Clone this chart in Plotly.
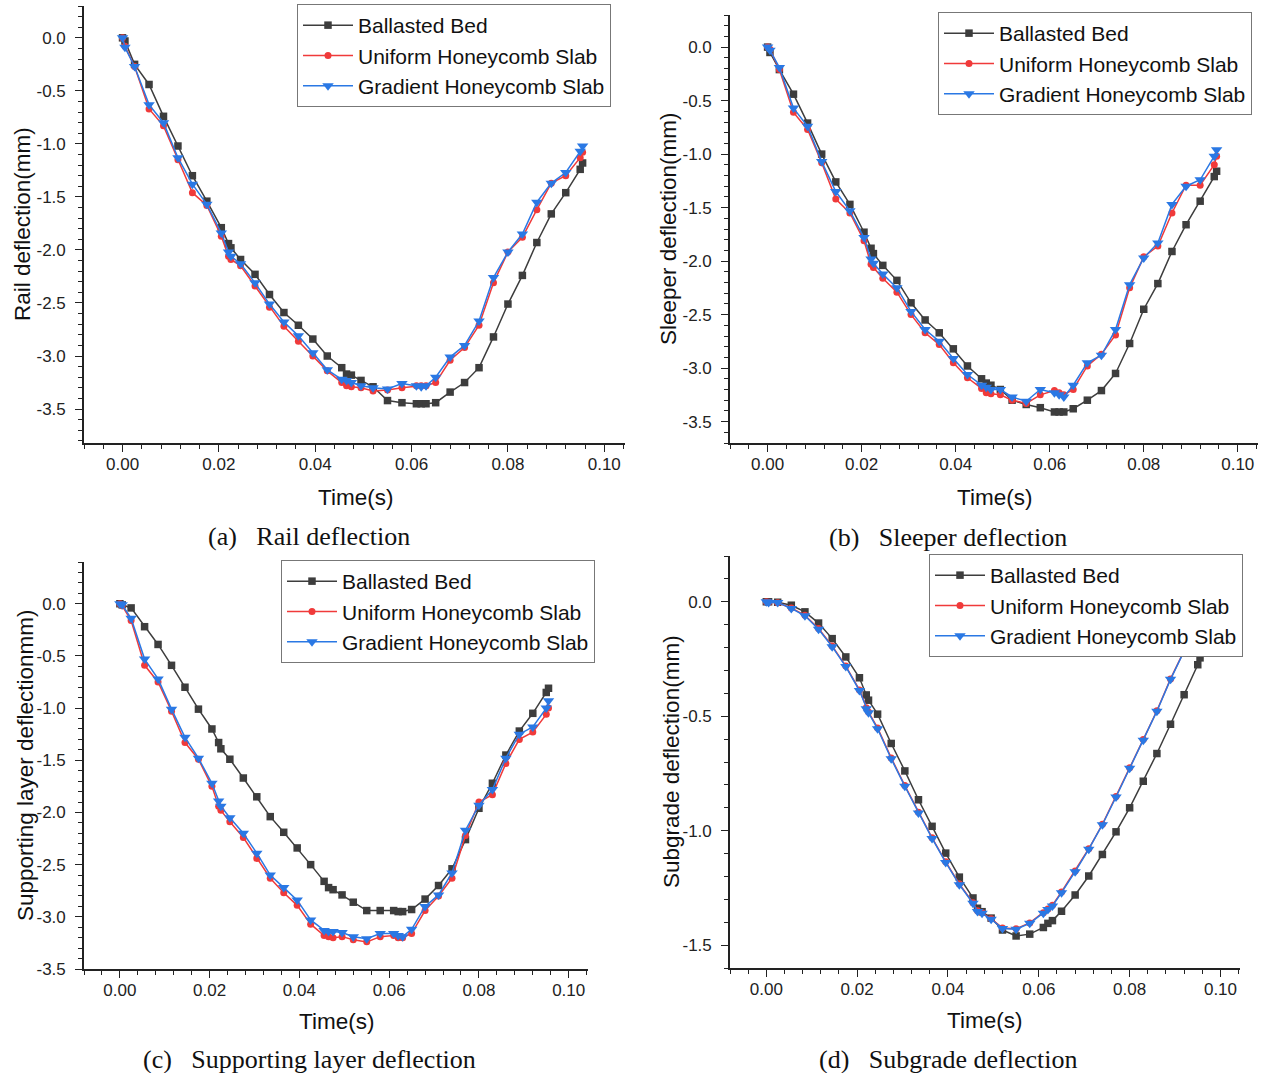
import plotly.graph_objects as go

# shared sample times (s)
time_s = [0.0, 0.0005, 0.0025, 0.0055, 0.0085, 0.0115, 0.0145, 0.0175, 0.0205, 0.022,
          0.0225, 0.0245, 0.0275, 0.0305, 0.0335, 0.0365, 0.0395, 0.0425, 0.0455, 0.0465,
          0.0475, 0.0495, 0.052, 0.055, 0.058, 0.061, 0.062, 0.063, 0.065, 0.068,
          0.071, 0.074, 0.077, 0.080, 0.083, 0.086, 0.089, 0.092, 0.095, 0.0955]

series_names = ["Ballasted Bed", "Uniform Honeycomb Slab", "Gradient Honeycomb Slab"]

# (a) rail deflection (mm)
rail_ballasted = [0.0, -0.03, -0.25, -0.44, -0.74, -1.02, -1.30, -1.54, -1.79, -1.94,
                  -1.98, -2.09, -2.23, -2.42, -2.59, -2.71, -2.84, -3.00, -3.11, -3.17,
                  -3.18, -3.23, -3.29, -3.42, -3.44, -3.45, -3.45, -3.45, -3.44, -3.34,
                  -3.25, -3.11, -2.82, -2.51, -2.24, -1.93, -1.66, -1.46, -1.24, -1.18]
rail_uniform = [0.0, -0.08, -0.27, -0.67, -0.83, -1.15, -1.46, -1.58, -1.87, -2.06,
                -2.09, -2.15, -2.34, -2.54, -2.72, -2.86, -3.00, -3.14, -3.25, -3.28,
                -3.29, -3.30, -3.33, -3.32, -3.30, -3.28, -3.28, -3.28, -3.25, -3.04,
                -2.92, -2.71, -2.31, -2.02, -1.88, -1.62, -1.37, -1.30, -1.13, -1.08]
rail_gradient = [0.0, -0.09, -0.27, -0.63, -0.80, -1.13, -1.38, -1.57, -1.84, -2.02,
                 -2.06, -2.13, -2.31, -2.51, -2.68, -2.81, -2.97, -3.13, -3.22, -3.23,
                 -3.25, -3.28, -3.30, -3.31, -3.26, -3.28, -3.29, -3.28, -3.20, -3.01,
                 -2.90, -2.67, -2.26, -2.02, -1.85, -1.55, -1.37, -1.27, -1.07, -1.02]

# (b) sleeper deflection (mm)
sleeper_ballasted = [0.0, -0.05, -0.21, -0.44, -0.71, -1.00, -1.26, -1.47, -1.73, -1.88,
                     -1.93, -2.04, -2.18, -2.39, -2.55, -2.67, -2.82, -2.98, -3.10, -3.14,
                     -3.16, -3.20, -3.30, -3.34, -3.37, -3.41, -3.41, -3.41, -3.38, -3.30,
                     -3.21, -3.05, -2.77, -2.45, -2.21, -1.91, -1.66, -1.44, -1.21, -1.16]
sleeper_uniform = [0.0, -0.02, -0.21, -0.61, -0.77, -1.08, -1.42, -1.55, -1.81, -2.03,
                   -2.06, -2.16, -2.29, -2.50, -2.67, -2.78, -2.95, -3.09, -3.19, -3.23,
                   -3.24, -3.25, -3.30, -3.33, -3.25, -3.21, -3.23, -3.25, -3.20, -2.98,
                   -2.87, -2.69, -2.25, -1.96, -1.86, -1.55, -1.29, -1.29, -1.10, -1.02]
sleeper_gradient = [0.0, -0.03, -0.19, -0.57, -0.74, -1.07, -1.35, -1.53, -1.78, -1.98,
                    -2.02, -2.12, -2.25, -2.47, -2.64, -2.75, -2.91, -3.06, -3.16, -3.18,
                    -3.20, -3.20, -3.27, -3.31, -3.20, -3.23, -3.25, -3.27, -3.16, -2.95,
                    -2.88, -2.64, -2.22, -1.97, -1.83, -1.47, -1.30, -1.24, -1.02, -0.96]

# (c) supporting layer deflection (mm)
support_ballasted = [0.0, -0.01, -0.04, -0.22, -0.39, -0.59, -0.80, -1.01, -1.20, -1.33,
                     -1.39, -1.49, -1.67, -1.85, -2.04, -2.19, -2.34, -2.50, -2.66, -2.72,
                     -2.74, -2.79, -2.86, -2.94, -2.94, -2.94, -2.95, -2.95, -2.93, -2.83,
                     -2.70, -2.54, -2.26, -1.96, -1.72, -1.45, -1.22, -1.05, -0.85, -0.81]
support_uniform = [0.0, -0.02, -0.16, -0.59, -0.75, -1.03, -1.33, -1.49, -1.75, -1.94,
                   -1.98, -2.09, -2.24, -2.44, -2.63, -2.77, -2.89, -3.07, -3.18, -3.19,
                   -3.20, -3.19, -3.22, -3.24, -3.19, -3.18, -3.20, -3.20, -3.16, -2.94,
                   -2.80, -2.63, -2.22, -1.90, -1.83, -1.53, -1.30, -1.23, -1.06, -1.00]
support_gradient = [0.0, -0.01, -0.14, -0.53, -0.72, -1.01, -1.28, -1.48, -1.72, -1.89,
                    -1.94, -2.05, -2.20, -2.39, -2.60, -2.72, -2.84, -3.03, -3.13, -3.14,
                    -3.14, -3.15, -3.19, -3.21, -3.16, -3.16, -3.18, -3.19, -3.12, -2.90,
                    -2.79, -2.58, -2.17, -1.93, -1.78, -1.48, -1.25, -1.18, -1.00, -0.93]

# (d) subgrade deflection (mm)
subgrade_ballasted = [0.0, 0.0, -0.002, -0.015, -0.044, -0.093, -0.161, -0.241, -0.332, -0.407,
                      -0.430, -0.491, -0.619, -0.739, -0.865, -0.981, -1.098, -1.203, -1.294, -1.339,
                      -1.354, -1.382, -1.434, -1.460, -1.452, -1.423, -1.405, -1.393, -1.352, -1.281,
                      -1.198, -1.104, -1.005, -0.900, -0.784, -0.663, -0.535, -0.406, -0.275, -0.245]
subgrade_uniform = [0.0, -0.002, -0.004, -0.027, -0.059, -0.117, -0.193, -0.281, -0.385, -0.463,
                    -0.482, -0.551, -0.682, -0.803, -0.920, -1.031, -1.136, -1.233, -1.315, -1.350,
                    -1.359, -1.385, -1.425, -1.429, -1.403, -1.359, -1.342, -1.326, -1.268, -1.176,
                    -1.079, -0.972, -0.851, -0.725, -0.602, -0.476, -0.337, -0.214, -0.128, -0.118]
subgrade_gradient = [0.0, -0.003, -0.003, -0.029, -0.061, -0.120, -0.196, -0.283, -0.388, -0.467,
                     -0.485, -0.555, -0.686, -0.806, -0.923, -1.034, -1.139, -1.236, -1.317, -1.353,
                     -1.361, -1.387, -1.427, -1.431, -1.405, -1.361, -1.344, -1.329, -1.271, -1.179,
                     -1.081, -0.974, -0.853, -0.727, -0.605, -0.478, -0.339, -0.216, -0.130, -0.120]

y_titles = ["Rail deflection(mm)", "Sleeper deflection(mm)",
            "Supporting layer deflectionmm)", "Subgrade deflection(mm)"]
captions = ["(a)\u00a0\u00a0\u00a0Rail deflection", "(b)\u00a0\u00a0\u00a0Sleeper deflection",
            "(c)\u00a0\u00a0\u00a0Supporting layer deflection", "(d)\u00a0\u00a0\u00a0Subgrade deflection"]
y_tick_values = [[0.0, -0.5, -1.0, -1.5, -2.0, -2.5, -3.0, -3.5],
                 [0.0, -0.5, -1.0, -1.5, -2.0, -2.5, -3.0, -3.5],
                 [0.0, -0.5, -1.0, -1.5, -2.0, -2.5, -3.0, -3.5],
                 [0.0, -0.5, -1.0, -1.5]]
y_ranges = [[-3.82, 0.3], [-3.7, 0.3], [-3.5, 0.4], [-1.6, 0.2]]

panels = [
    [rail_ballasted, rail_uniform, rail_gradient],
    [sleeper_ballasted, sleeper_uniform, sleeper_gradient],
    [support_ballasted, support_uniform, support_gradient],
    [subgrade_ballasted, subgrade_uniform, subgrade_gradient],
]

W, H = 1266, 1073


def px(x):
    return min(1.0, max(0.0, x / W))


def py(y):
    return min(1.0, max(0.0, 1 - y / H))


# plot boxes in page pixels: left, right, top, bottom
boxes = [(84, 625, 6, 443), (730, 1258, 15, 443), (84, 588, 562, 969), (730, 1240, 556, 968)]
legend_pos = [(297, 4), (938, 12), (281, 560), (929, 554)]
ytitle_pos = [(22, 224), (668, 229), (25, 766), (671, 762)]
xtitle_pos = [(355, 497), (994, 497), (336, 1021), (985, 1020)]
caption_pos = [(309, 536), (948, 537), (309, 1059), (948, 1059)]

colors = ["#3d3d3d", "#f03a3a", "#2a78e4"]
symbols = ["square", "circle", "triangle-down"]
sizes = [7.5, 7, 10]
sans = "Liberation Sans, Arial"

fig = go.Figure()
annotations = []

for p in range(4):
    xa = "x" if p == 0 else f"x{p + 1}"
    ya = "y" if p == 0 else f"y{p + 1}"
    lg = "legend" if p == 0 else f"legend{p + 1}"
    for s in range(3):
        fig.add_trace(go.Scatter(
            x=time_s, y=panels[p][s], name=series_names[s],
            mode="lines+markers",
            line=dict(color=colors[s], width=1.5),
            marker=dict(symbol=symbols[s], size=sizes[s], color=colors[s]),
            xaxis=xa, yaxis=ya, legend=lg
        ))

    l, r, t, b = boxes[p]
    axis_common = dict(showline=True, linewidth=1.6, linecolor="#222", showgrid=False,
                       zeroline=False, ticks="outside", ticklen=7, tickwidth=1.3,
                       tickcolor="#222", automargin=False,
                       tickfont=dict(family=sans, size=17, color="#222"))
    suffix = "" if p == 0 else str(p + 1)
    fig.layout[f"xaxis{suffix}"] = dict(
        domain=[px(l), px(r)], anchor=ya, range=[-0.008, 0.1043],
        tickmode="linear", tick0=0, dtick=0.02, tickformat=".2f", ticklabelstandoff=-2,
        minor=dict(ticks="outside", ticklen=4, tick0=0, dtick=0.004, tickcolor="#222", tickwidth=1.2),
        **axis_common)
    fig.layout[f"yaxis{suffix}"] = dict(
        domain=[py(b), py(t)], anchor=xa, range=y_ranges[p],
        tickmode="array", tickvals=y_tick_values[p], ticklabelstandoff=6,
        ticktext=[f"{v:.1f}" for v in y_tick_values[p]],
        minor=dict(ticks="outside", ticklen=4, tick0=0, dtick=0.1, tickcolor="#222", tickwidth=1.2),
        **axis_common)

    lx, ly = legend_pos[p]
    fig.layout[lg] = dict(x=px(lx), y=py(ly), xanchor="left", yanchor="top",
                          bgcolor="white", bordercolor="#777", borderwidth=1,
                          font=dict(family=sans, size=21, color="#111"),
                          itemwidth=50, tracegroupgap=0)

    tx, ty = ytitle_pos[p]
    annotations.append(dict(text=y_titles[p], x=px(tx), y=py(ty), xref="paper", yref="paper",
                            xanchor="center", yanchor="middle", textangle=-90, showarrow=False,
                            font=dict(family=sans, size=22.5, color="#111")))
    tx, ty = xtitle_pos[p]
    annotations.append(dict(text="Time(s)", x=px(tx), y=py(ty), xref="paper", yref="paper",
                            xanchor="center", yanchor="middle", showarrow=False,
                            font=dict(family=sans, size=22.5, color="#111")))
    tx, ty = caption_pos[p]
    annotations.append(dict(text=captions[p], x=px(tx), y=py(ty), xref="paper", yref="paper",
                            xanchor="center", yanchor="middle", showarrow=False,
                            font=dict(family="Liberation Serif, Times New Roman", size=26, color="#111")))

fig.update_layout(
    width=W, height=H,
    margin=dict(l=0, r=0, t=0, b=0),
    plot_bgcolor="white", paper_bgcolor="white",
    annotations=annotations,
)

# drop the default page margin so the figure fills the window exactly
fig.write_html("out.html", config={"displayModeBar": False},
               post_script="document.body.style.margin='0';document.body.style.overflow='hidden';")
